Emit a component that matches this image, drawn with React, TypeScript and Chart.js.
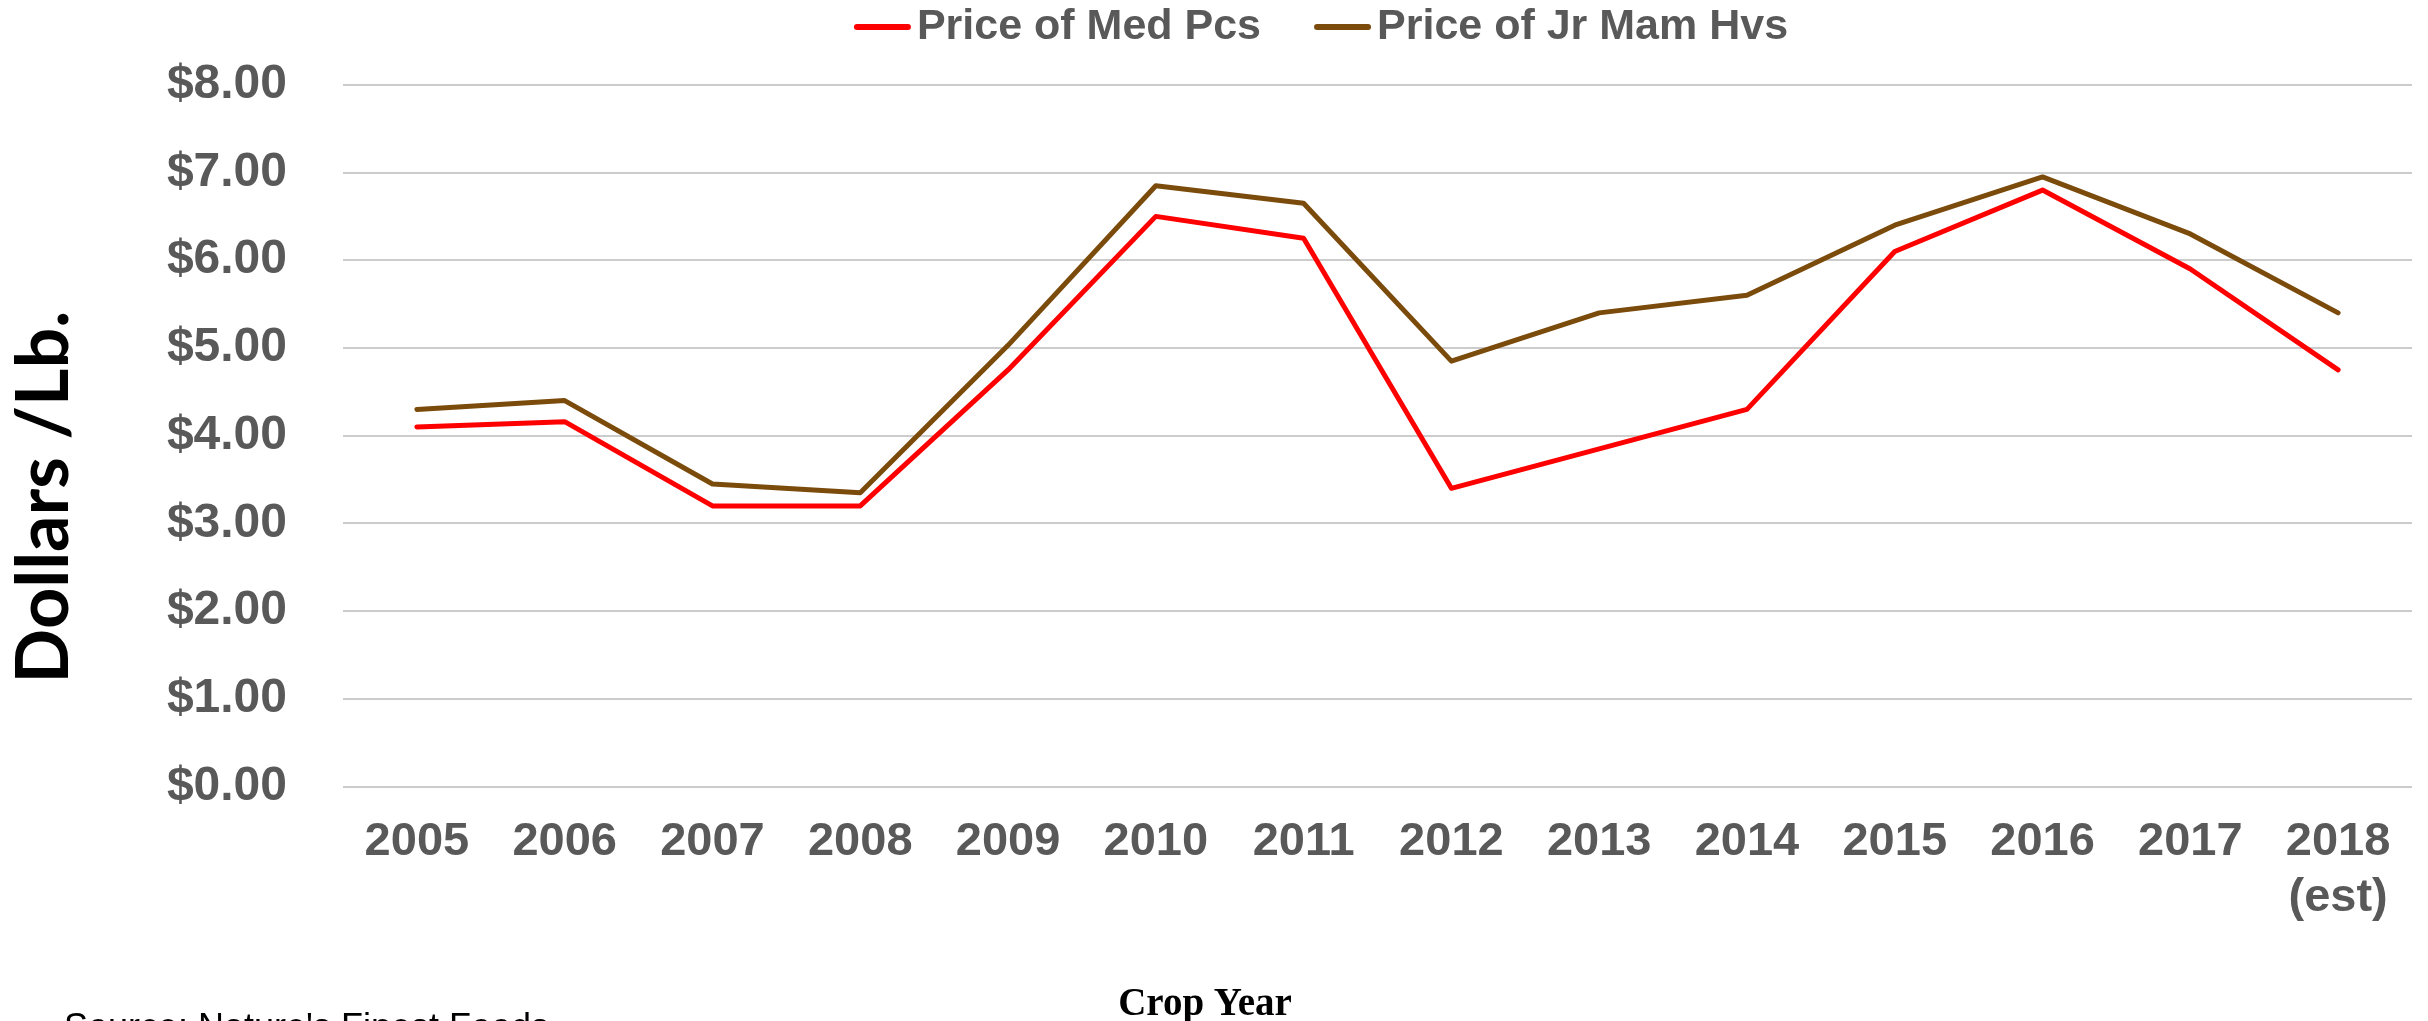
import React, { useEffect, useRef } from 'react';
import { Chart, registerables } from 'chart.js';

Chart.register(...registerables);

// ---- Data ----
const categories: (string | string[])[] = [
  '2005', '2006', '2007', '2008', '2009', '2010', '2011',
  '2012', '2013', '2014', '2015', '2016', '2017', ['2018', '(est)'],
];
const medPcsPrices = [4.10, 4.16, 3.20, 3.20, 4.75, 6.50, 6.25, 3.40, 3.85, 4.30, 6.10, 6.80, 5.90, 4.75];
const jrMamHvsPrices = [4.30, 4.40, 3.45, 3.35, 5.03, 6.85, 6.65, 4.85, 5.40, 5.60, 6.40, 6.95, 6.30, 5.40];
const seriesLabels = ['Price of Med Pcs', 'Price of Jr Mam Hvs'];
const seriesColors = ['#FF0000', '#7B4B0C'];
const yMin = 0;
const yMax = 8;
const yStep = 1;
const yAxisTitle = 'Dollars /Lb.';
const xAxisTitle = 'Crop Year';
const sourceNote = "Source: Nature's Finest Foods";

const SANS = '"Liberation Sans", Arial, sans-serif';
const TEXT_GREY = '#595959';

const annotationsPlugin = {
  id: 'annotations',
  afterDraw(chart: any) {
    const ctx: CanvasRenderingContext2D = chart.ctx;
    ctx.save();

    // Legend
    ctx.font = `bold 43px ${SANS}`;
    const items = chart.data.datasets.map((ds: any) => ({
      label: ds.label as string,
      color: ds.borderColor as string,
      w: ctx.measureText(ds.label).width,
    }));
    const lineLen = 57;
    const gapText = 6;
    const gapItem = 53;
    const total =
      items.reduce((s: number, it: any) => s + lineLen + gapText + it.w, 0) +
      gapItem * (items.length - 1);
    let x = 1321 - total / 2;
    const ly = 27;
    for (const it of items) {
      ctx.strokeStyle = it.color;
      ctx.lineWidth = 6;
      ctx.lineCap = 'round';
      ctx.beginPath();
      ctx.moveTo(x + 3, ly);
      ctx.lineTo(x + lineLen - 3, ly);
      ctx.stroke();
      ctx.fillStyle = TEXT_GREY;
      ctx.textAlign = 'left';
      ctx.textBaseline = 'middle';
      ctx.fillText(it.label, x + lineLen + gapText, ly);
      x += lineLen + gapText + it.w + gapItem;
    }

    // Y axis title
    ctx.save();
    ctx.translate(45, 497);
    ctx.rotate(-Math.PI / 2);
    ctx.font = 'bold 72px Lato, "Open Sans", sans-serif';
    ctx.fillStyle = '#000000';
    ctx.textAlign = 'center';
    ctx.textBaseline = 'middle';
    ctx.fillText(yAxisTitle, 0, 0);
    ctx.restore();

    // X axis title
    ctx.font = 'bold 39px "Liberation Serif", "Times New Roman", serif';
    ctx.fillStyle = '#000000';
    ctx.textAlign = 'center';
    ctx.textBaseline = 'alphabetic';
    ctx.fillText(xAxisTitle, 1205, 1015);

    // Source note
    ctx.font = `36px ${SANS}`;
    ctx.textAlign = 'left';
    ctx.fillText(sourceNote, 64, 1039);

    ctx.restore();
  },
};

export default function App() {
  const canvasRef = useRef<HTMLCanvasElement | null>(null);

  useEffect(() => {
    const canvas = canvasRef.current;
    if (!canvas) return;
    const chart = new Chart(canvas, {
      type: 'line',
      data: {
        labels: categories,
        datasets: [
          {
            label: seriesLabels[0],
            data: medPcsPrices,
            borderColor: seriesColors[0],
            backgroundColor: seriesColors[0],
            borderWidth: 5,
            pointRadius: 0,
            tension: 0,
            fill: false,
            borderJoinStyle: 'round',
            borderCapStyle: 'round',
          },
          {
            label: seriesLabels[1],
            data: jrMamHvsPrices,
            borderColor: seriesColors[1],
            backgroundColor: seriesColors[1],
            borderWidth: 5,
            pointRadius: 0,
            tension: 0,
            fill: false,
            borderJoinStyle: 'round',
            borderCapStyle: 'round',
          },
        ],
      },
      options: {
        responsive: false,
        animation: false,
        events: [],
        layout: { padding: { top: 81, right: 16, bottom: 0, left: 0 } },
        plugins: {
          legend: { display: false },
          tooltip: { enabled: false },
          title: { display: false },
        },
        scales: {
          x: {
            type: 'category',
            offset: true,
            grid: { display: false, drawTicks: false },
            border: { display: false },
            ticks: {
              padding: 27,
              maxRotation: 0,
              autoSkip: false,
              color: TEXT_GREY,
              font: { family: SANS, size: 47, weight: 'bold', lineHeight: 1.2 },
            },
            afterFit: (scale: any) => {
              scale.height = 234.4;
            },
          },
          y: {
            min: yMin,
            max: yMax,
            grid: { color: '#CCCCCC', lineWidth: 2, drawTicks: false },
            border: { display: false },
            ticks: {
              stepSize: yStep,
              padding: 56,
              color: TEXT_GREY,
              font: { family: SANS, size: 48, weight: 'bold' },
              callback: (v: any) => '$' + Number(v).toFixed(2),
            },
            afterFit: (scale: any) => {
              scale.width = 343;
            },
          },
        },
      },
      plugins: [annotationsPlugin],
    } as any);
    return () => chart.destroy();
  }, []);

  return (
    <div style={{ position: 'fixed', left: 0, top: 0, width: 2428, height: 1021, background: '#ffffff', overflow: 'hidden' }}>
      <canvas ref={canvasRef} width={2428} height={1021} style={{ display: 'block' }} />
    </div>
  );
}
